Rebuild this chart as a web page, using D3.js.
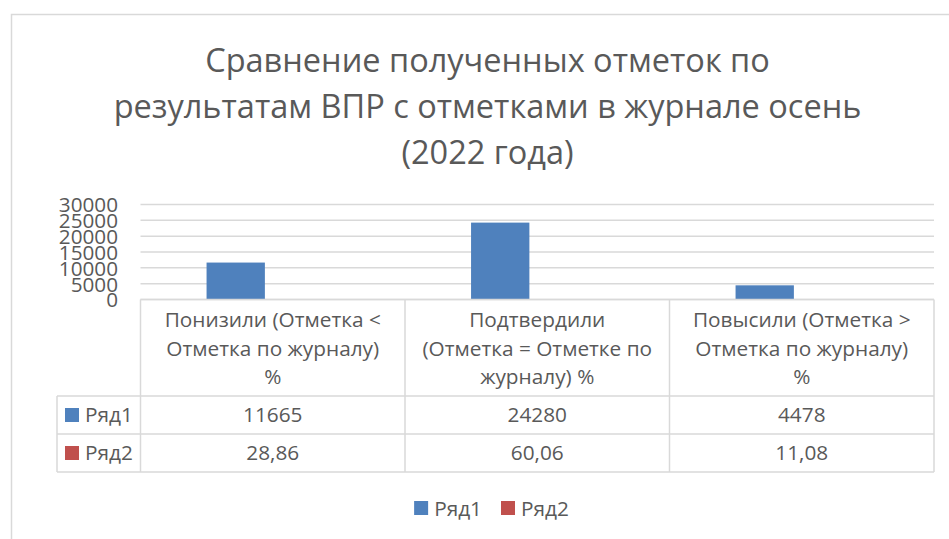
<!DOCTYPE html>
<html>
<head>
<meta charset="utf-8">
<script src="https://cdn.jsdelivr.net/npm/d3@7"></script>
<style>
  body { margin: 0; background: #fff; }
  text { font-family: "Open Sans", sans-serif; fill: #595959; }
</style>
</head>
<body>
<script>
var w = 949;
var h = 539;

var titleLines = ["Сравнение полученных отметок по",
                  "результатам ВПР с отметками в журнале осень",
                  "(2022 года)"];
var categories = ["Понизили (Отметка < Отметка по журналу) %",
                  "Подтвердили (Отметка = Отметке по журналу) %",
                  "Повысили (Отметка > Отметка по журналу) %"];
// how the category names wrap in the table header
var categoryLines = [["Понизили (Отметка <", "Отметка по журналу)", "%"],
                     ["Подтвердили", "(Отметка = Отметке по", "журналу) %"],
                     ["Повысили (Отметка >", "Отметка по журналу)", "%"]];
var seriesNames = ["Ряд1", "Ряд2"];
var ryad1 = [11665, 24280, 4478];
var ryad2 = [28.86, 60.06, 11.08];
var ryad1Labels = ["11665", "24280", "4478"];
var ryad2Labels = ["28,86", "60,06", "11,08"];
var yTicks = [0, 5000, 10000, 15000, 20000, 25000, 30000];

var colors = ["#4F81BD", "#C0504D"];
var gridColor = "#D9D9D9";

var series = [ryad1, ryad2];
var seriesLabels = [ryad1Labels, ryad2Labels];

var svg = d3.select("body")
            .append("svg")
            .attr("width", w)
            .attr("height", h);

// outer chart border
svg.append("rect")
    .attr("x", 11.5)
    .attr("y", 14.5)
    .attr("width", 960)
    .attr("height", 560)
    .attr("fill", "none")
    .attr("stroke", gridColor)
    .attr("stroke-width", 1.5);

// title
svg.append("text")
    .attr("text-anchor", "middle")
    .style("font-size", "32.5px")
    .selectAll("tspan")
    .data(titleLines)
    .enter()
    .append("tspan")
    .attr("x", 487.5)
    .attr("y", function(d, i) { return 72 + i * 46; })
    .text(function(d) { return d; });

var plotLeft = 140.5, plotRight = 934, plotTop = 204.5, plotBottom = 299.5;

var x0 = d3.scaleBand()
           .domain(d3.range(categories.length))
           .range([plotLeft, plotRight]);

var x1 = d3.scaleBand()
           .domain(d3.range(seriesNames.length))
           .range([0, x0.bandwidth()])
           .paddingInner(0.2125)
           .paddingOuter(0.892);

var yScale = d3.scaleLinear()
               .domain([0, 30000])
               .range([plotBottom, plotTop]);

// gridlines
svg.selectAll("line.grid")
    .data(yTicks)
    .enter()
    .append("line")
    .attr("class", "grid")
    .attr("x1", plotLeft)
    .attr("x2", plotRight)
    .attr("y1", function(d) { return yScale(d); })
    .attr("y2", function(d) { return yScale(d); })
    .attr("stroke", gridColor)
    .attr("stroke-width", 1.5);

// y axis labels
var yAxis = d3.axisLeft(yScale)
              .tickValues(yTicks)
              .tickSize(0)
              .tickPadding(0)
              .tickFormat(d3.format("d"));

var gy = svg.append("g")
    .attr("transform", "translate(118,0)")
    .call(yAxis);
gy.select(".domain").remove();
gy.selectAll("text")
    .attr("dy", "0.36em")
    .style("font-family", "\"Open Sans\", sans-serif")
    .style("font-size", "20.7px")
    .attr("fill", "#595959");

// bars
series.forEach(function(vals, s) {
    svg.selectAll("rect.s" + s)
        .data(vals)
        .enter()
        .append("rect")
        .attr("class", "s" + s)
        .attr("x", function(d, i) { return x0(i) + x1(s); })
        .attr("y", function(d) { return yScale(d); })
        .attr("width", x1.bandwidth())
        .attr("height", function(d) { return plotBottom - yScale(d); })
        .attr("fill", colors[s]);
});

// data table
var headBottom = 396, rowH = 38;
var tableLeft = 57;
var tableBottom = headBottom + rowH * seriesNames.length;

var lineStyle = function(sel) {
    sel.attr("stroke", gridColor).attr("stroke-width", 1.5).attr("fill", "none");
};

svg.append("line").attr("x1", plotLeft).attr("x2", plotRight)
    .attr("y1", plotBottom).attr("y2", plotBottom).call(lineStyle);

// horizontal row lines
d3.range(seriesNames.length + 1).forEach(function(r) {
    svg.append("line")
        .attr("x1", tableLeft).attr("x2", plotRight)
        .attr("y1", headBottom + r * rowH).attr("y2", headBottom + r * rowH)
        .call(lineStyle);
});

// vertical lines
var colEdges = d3.range(categories.length).map(function(i) { return x0(i); }).concat([plotRight]);
colEdges.forEach(function(xx) {
    svg.append("line")
        .attr("x1", xx).attr("x2", xx)
        .attr("y1", plotBottom).attr("y2", tableBottom)
        .call(lineStyle);
});
svg.append("line")
    .attr("x1", tableLeft).attr("x2", tableLeft)
    .attr("y1", headBottom).attr("y2", tableBottom)
    .call(lineStyle);

// header texts
categoryLines.forEach(function(lines, i) {
    svg.append("text")
        .attr("text-anchor", "middle")
        .style("font-size", "20.8px")
        .selectAll("tspan")
        .data(lines)
        .enter()
        .append("tspan")
        .attr("x", x0(i) + x0.bandwidth() / 2)
        .attr("y", function(d, k) { return 327 + k * 28.5; })
        .text(function(d) { return d; });
});

// row keys and values
seriesNames.forEach(function(name, s) {
    var cy = headBottom + rowH * s + rowH / 2;
    svg.append("rect")
        .attr("x", 65).attr("y", cy - 7)
        .attr("width", 14).attr("height", 14)
        .attr("fill", colors[s]);
    svg.append("text")
        .attr("x", 85).attr("y", cy)
        .attr("dy", "0.36em")
        .style("font-size", "20.8px")
        .text(name);
    svg.selectAll("text.v" + s)
        .data(seriesLabels[s])
        .enter()
        .append("text")
        .attr("class", "v" + s)
        .attr("x", function(d, i) { return x0(i) + x0.bandwidth() / 2; })
        .attr("y", cy)
        .attr("dy", "0.36em")
        .attr("text-anchor", "middle")
        .style("font-size", "20.8px")
        .text(function(d) { return d; });
});

// legend
var legend = svg.append("g");
var lx = 0;
seriesNames.forEach(function(name, s) {
    var g = legend.append("g").attr("transform", "translate(" + lx + ",0)");
    g.append("rect")
        .attr("x", 0).attr("y", -7)
        .attr("width", 14).attr("height", 14)
        .attr("fill", colors[s]);
    var t = g.append("text")
        .attr("x", 20).attr("dy", "0.36em")
        .style("font-size", "20.8px")
        .text(name);
    lx += 20 + t.node().getComputedTextLength() + 19;
});
var legW = lx - 19;
legend.attr("transform", "translate(" + (491.5 - legW / 2) + ",508)");
</script>
</body>
</html>
